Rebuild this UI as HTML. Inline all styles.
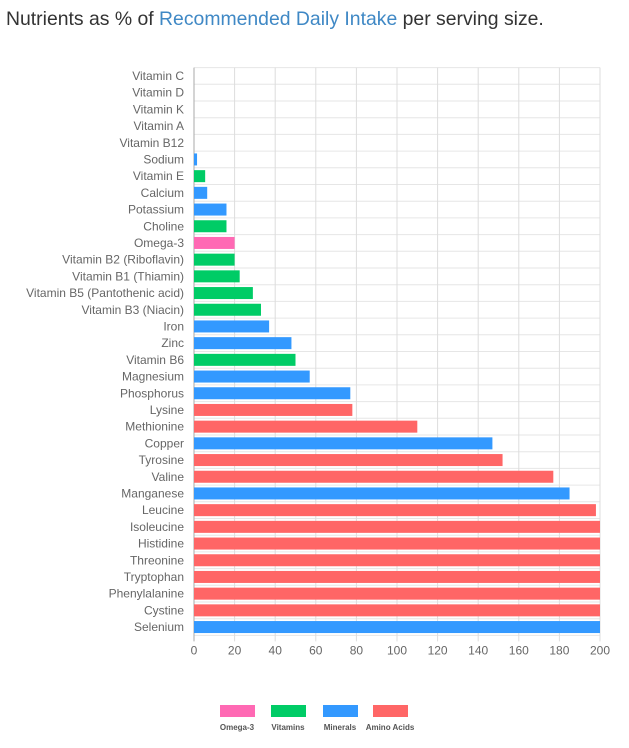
<!DOCTYPE html>
<html><head><meta charset="utf-8"><style>
body{margin:0;background:#fff;width:629px;height:748px;overflow:hidden;font-family:"Liberation Sans",sans-serif}
#title{position:absolute;left:6px;top:8px;font-size:19.4px;color:#333;letter-spacing:0px;white-space:nowrap}
#title span{color:#3f88c5}
svg{position:absolute;left:0;top:0}
</style></head><body>
<div id="title">Nutrients as % of <span>Recommended Daily Intake</span> per serving size.</div>
<svg id="c" width="629" height="748"></svg>
<script>
const categories=["Vitamin C","Vitamin D","Vitamin K","Vitamin A","Vitamin B12","Sodium","Vitamin E","Calcium","Potassium","Choline","Omega-3","Vitamin B2 (Riboflavin)","Vitamin B1 (Thiamin)","Vitamin B5 (Pantothenic acid)","Vitamin B3 (Niacin)","Iron","Zinc","Vitamin B6","Magnesium","Phosphorus","Lysine","Methionine","Copper","Tyrosine","Valine","Manganese","Leucine","Isoleucine","Histidine","Threonine","Tryptophan","Phenylalanine","Cystine","Selenium"];
const values=[0,0,0,0,0,1.5,5.5,6.5,16,16,20,20,22.5,29,33,37,48,50,57,77,78,110,147,152,177,185,198,200,200,200,200,200,200,200];
const groups=["m","m","m","m","m","min","vit","min","min","vit","o","vit","vit","vit","vit","min","min","vit","min","min","aa","aa","min","aa","aa","min","aa","aa","aa","aa","aa","aa","aa","min"];
const ticks=[0,20,40,60,80,100,120,140,160,180,200];
const legendLabels=["Omega-3","Vitamins","Minerals","Amino Acids"];
const legendKeys=["o","vit","min","aa"];
const colors={o:"#ff69b4",vit:"#00cc66",min:"#3399ff",aa:"#ff6666",m:"#3399ff"};
const svg=document.getElementById('c');const NS="http://www.w3.org/2000/svg";
const x0=194,x1=600,plotTop=67.6,rowH=16.7;
const xs=v=>x0+(x1-x0)*v/200;
const ys=i=>plotTop+i*rowH;
function mk(t,a){const e=document.createElementNS(NS,t);for(const k in a)e.setAttribute(k,a[k]);svg.appendChild(e);return e;}
const bottom=ys(categories.length);
for(let i=0;i<=categories.length;i++){const g=mk('line',{x1:x0,x2:x1,y1:ys(i),y2:ys(i),stroke:"#e6e6e6","stroke-width":1});

}
ticks.forEach(t=>{const g=mk('line',{x1:xs(t),x2:xs(t),y1:plotTop,y2:bottom+6,stroke:t===0?"#aaa":"#ddd","stroke-width":1});


const l=mk('text',{x:xs(t),y:bottom+19,"text-anchor":"middle","font-size":12,fill:"#666"});l.textContent=t;

});
categories.forEach((c,i)=>{const cy=ys(i)+rowH/2;
const l=mk('text',{x:x0-10,y:cy+4,"text-anchor":"end","font-size":12,fill:"#666"});l.textContent=c;


if(values[i]>0){const b=mk('rect',{x:x0,y:cy-6,width:xs(values[i])-x0,height:12,fill:colors[groups[i]]});

}});
const lx=[220,271,323,373];
legendLabels.forEach((n,i)=>{const r=mk('rect',{x:lx[i],y:705,width:35,height:12,fill:colors[legendKeys[i]]});


const t=mk('text',{x:lx[i]+17,y:730,"text-anchor":"middle","font-size":8,"font-weight":"bold",fill:"#555"});t.textContent=n;

});
</script>
</body></html>
